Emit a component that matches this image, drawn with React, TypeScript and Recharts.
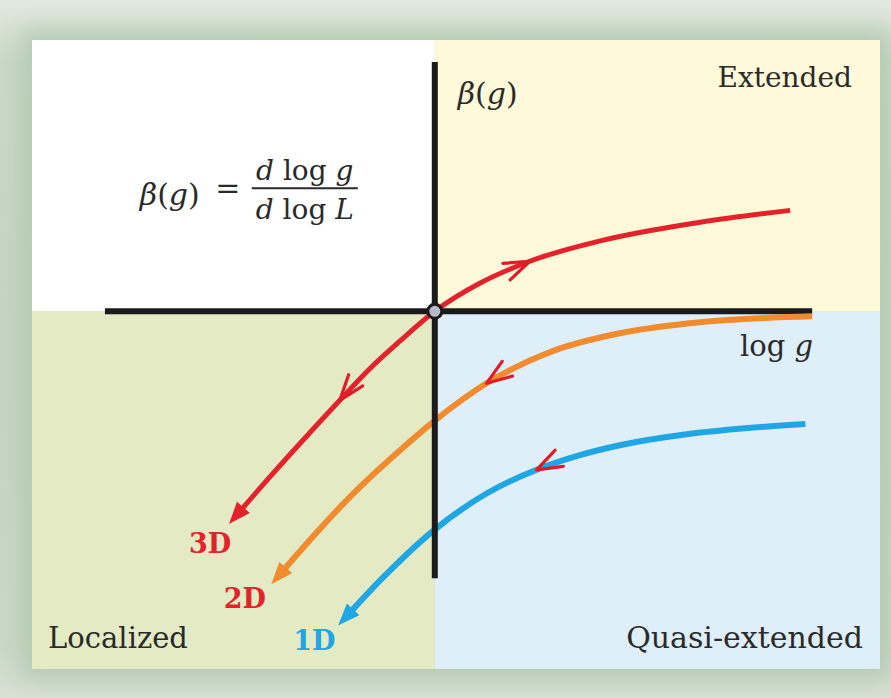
import React from 'react';
import {
  ComposedChart,
  Line,
  XAxis,
  YAxis,
  ReferenceArea,
  ReferenceLine,
  ReferenceDot,
} from 'recharts';

const WIDTH = 891;
const HEIGHT = 698;

// Scaling curves: log g (x) against β(g) (y), ordered by increasing log g
const logG3D = [-2.35, -1.95, -1.59, -1.12, -0.77, -0.41, 0, 0.53, 1.12, 1.95, 3.13, 4.19];
const beta3D = [-2.42, -1.96, -1.56, -1.05, -0.68, -0.35, 0, 0.33, 0.59, 0.83, 1.05, 1.19];

const logG2D = [-1.85, -1.59, -1.0, -0.41, 0, 0.61, 1.39, 2.18, 3.13, 4.45];
const beta2D = [-3.13, -2.83, -2.19, -1.64, -1.29, -0.85, -0.47, -0.26, -0.13, -0.06];

const logG1D = [-1.06, -0.61, -0.02, 0.61, 1.2, 1.7, 2.18, 2.97, 3.66, 4.37];
const beta1D = [-3.62, -3.14, -2.59, -2.15, -1.87, -1.7, -1.58, -1.45, -1.38, -1.33];

// Flow ticks on each curve: index of the curve point, +1 = flow toward larger log g
const flow3D = [
  { at: 8, dir: 1 },
  { at: 3, dir: -1 },
];
const flow2D = [{ at: 5, dir: -1 }];
const flow1D = [{ at: 4, dir: -1 }];

// Extents of the drawn axes and of the plotting window
const xDomain = [-4.75, 5.25];
const yDomain = [-4.22, 3.2];
const hAxis = [-3.89, 4.45];
const vAxis = [-3.15, 2.94];

const regionNames = ['Extended', 'Localized', 'Quasi-extended'];
const dimensionNames = ['3D', '2D', '1D'];

const toRows = (xs: number[], ys: number[]) => xs.map((x, i) => ({ x, y: ys[i] }));
const rows3D = toRows(logG3D, beta3D);
const rows2D = toRows(logG2D, beta2D);
const rows1D = toRows(logG1D, beta1D);

const RED = '#e3222b';
const ORANGE = '#f28a2e';
const BLUE = '#1fa6e4';
const TICK = '#df1c28';
const INK = '#2a2a2a';
const AXIS = '#1b1b1b';
const SERIF = "'DejaVu Serif', serif";
const deg = Math.PI / 180;

type Pt = { x: number; y: number };
const unit = (dx: number, dy: number): Pt => {
  const l = Math.hypot(dx, dy) || 1;
  return { x: dx / l, y: dy / l };
};
const rot = (v: Pt, a: number): Pt => ({
  x: v.x * Math.cos(a) - v.y * Math.sin(a),
  y: v.x * Math.sin(a) + v.y * Math.cos(a),
});

// Arrowhead at the low end of a curve and small hand-drawn flow ticks along it
function curveMarks(color: string, flow: { at: number; dir: number }[]) {
  return (props: any) => {
    const { cx, cy, index, points } = props;
    const key = `mark-${index}`;
    const pts = points as Pt[] | undefined;
    if (!pts || cx == null || cy == null) return <g key={key} />;
    if (index === 0 && pts.length > 1) {
      const u = unit(cx - pts[1].x, cy - pts[1].y);
      const n = { x: -u.y, y: u.x };
      const tip = { x: cx + u.x * 10, y: cy + u.y * 10 };
      const bx = cx - u.x * 12;
      const by = cy - u.y * 12;
      return (
        <polygon
          key={key}
          points={`${tip.x},${tip.y} ${bx + n.x * 8.5},${by + n.y * 8.5} ${bx - n.x * 8.5},${by - n.y * 8.5}`}
          fill={color}
        />
      );
    }
    const f = flow.find((m) => m.at === index);
    if (f && index > 0 && index < pts.length - 1) {
      const t = unit(pts[index + 1].x - pts[index - 1].x, pts[index + 1].y - pts[index - 1].y);
      const r = { x: -t.x * f.dir, y: -t.y * f.dir };
      const a = rot(r, -24 * deg);
      const b = rot(r, 15 * deg);
      const L = 27;
      return (
        <path
          key={key}
          d={`M${cx + a.x * L},${cy + a.y * L} L${cx},${cy} L${cx + b.x * L},${cy + b.y * L}`}
          fill="none"
          stroke={TICK}
          strokeWidth={3.2}
          strokeLinecap="round"
          strokeLinejoin="round"
        />
      );
    }
    return <g key={key} />;
  };
}

type TextOpts = { anchor?: 'start' | 'middle' | 'end'; size: number; fill?: string; weight?: number };
const textAt = (content: React.ReactNode, o: TextOpts) => (p: any) => (
  <text
    x={p.cx}
    y={p.cy}
    textAnchor={o.anchor ?? 'start'}
    fontFamily={SERIF}
    fontSize={o.size}
    fill={o.fill ?? INK}
    fontWeight={o.weight ?? 400}
  >
    {content}
  </text>
);

const it = (s: string) => <tspan fontStyle="italic">{s}</tspan>;

// β(g) = d log g / d log L, laid out around the fraction bar
const formula = (p: any) => {
  const { cx, cy } = p;
  return (
    <g fontFamily={SERIF} fill={INK}>
      <text x={cx - 112} y={cy + 17} fontSize={30}>
        {it('β')}({it('g')})
      </text>
      <text x={cx - 24} y={cy + 10} fontSize={30} textAnchor="middle">
        =
      </text>
      <text x={cx + 53} y={cy - 8} fontSize={28} textAnchor="middle">
        {it('d')} log {it('g')}
      </text>
      <line x1={cx} y1={cy} x2={cx + 106} y2={cy} stroke={INK} strokeWidth={2} />
      <text x={cx + 53} y={cy + 31} fontSize={28} textAnchor="middle">
        {it('d')} log {it('L')}
      </text>
    </g>
  );
};

export default function App() {
  return (
    <div
      style={{
        position: 'absolute',
        left: 0,
        top: 0,
        width: WIDTH,
        height: HEIGHT,
        overflow: 'hidden',
        background: 'linear-gradient(180deg, #e2e9df 0%, #c9d9c6 9%, #c3d5c0 50%, #c9d8c5 92%, #d7e1d4 100%)',
      }}
    >
      <div
        style={{
          position: 'absolute',
          left: 32,
          top: 40,
          width: 848,
          height: 629,
          boxShadow: '0 0 22px 10px #b5cbb2',
        }}
      />
      <div style={{ position: 'absolute', left: 0, top: 0 }}>
        <ComposedChart width={WIDTH} height={HEIGHT} margin={{ top: 40, right: 11, bottom: 29, left: 32 }}>
          <XAxis type="number" dataKey="x" domain={xDomain} hide />
          <YAxis type="number" dataKey="y" domain={yDomain} hide />

          {/* Four regimes */}
          <ReferenceArea x1={xDomain[0]} x2={0} y1={0} y2={yDomain[1]} fill="#ffffff" fillOpacity={1} stroke="none" zIndex={-300} />
          <ReferenceArea x1={0} x2={xDomain[1]} y1={0} y2={yDomain[1]} fill="#fef9d8" fillOpacity={1} stroke="none" zIndex={-300} />
          <ReferenceArea x1={xDomain[0]} x2={0} y1={yDomain[0]} y2={0} fill="#e3eac4" fillOpacity={1} stroke="none" zIndex={-300} />
          <ReferenceArea x1={0} x2={xDomain[1]} y1={yDomain[0]} y2={0} fill="#dfeffa" fillOpacity={1} stroke="none" zIndex={-300} />

          <ReferenceLine
            segment={[{ x: hAxis[0], y: 0 }, { x: hAxis[1], y: 0 }]}
            stroke={AXIS}
            strokeWidth={6}
            zIndex={350}
          />

          <Line data={rows1D} dataKey="y" type="monotone" stroke={BLUE} strokeWidth={6} dot={curveMarks(BLUE, flow1D)} activeDot={false} isAnimationActive={false} />
          <Line data={rows2D} dataKey="y" type="monotone" stroke={ORANGE} strokeWidth={6} dot={curveMarks(ORANGE, flow2D)} activeDot={false} isAnimationActive={false} />
          <Line data={rows3D} dataKey="y" type="monotone" stroke={RED} strokeWidth={5} dot={curveMarks(RED, flow3D)} activeDot={false} isAnimationActive={false} />

          <ReferenceLine
            segment={[{ x: 0, y: vAxis[0] }, { x: 0, y: vAxis[1] }]}
            stroke={AXIS}
            strokeWidth={6}
            zIndex={450}
          />
          <ReferenceDot x={0} y={0} r={7} fill="#b9bac8" stroke={AXIS} strokeWidth={3} zIndex={700} />

          {/* Text */}
          <ReferenceDot x={0.27} y={2.44} r={0} zIndex={2000} shape={textAt(<>{it('β')}({it('g')})</>, { size: 30 })} />
          <ReferenceDot x={4.46} y={-0.53} r={0} zIndex={2000} shape={textAt(<>log {it('g')}</>, { size: 29, anchor: 'end' })} />
          <ReferenceDot x={-2.158} y={1.45} r={0} zIndex={2000} shape={formula} />
          <ReferenceDot x={4.92} y={2.64} r={0} zIndex={2000} shape={textAt(regionNames[0], { size: 28, anchor: 'end' })} />
          <ReferenceDot x={-4.56} y={-3.97} r={0} zIndex={2000} shape={textAt(regionNames[1], { size: 29 })} />
          <ReferenceDot x={5.05} y={-3.97} r={0} zIndex={2000} shape={textAt(regionNames[2], { size: 30, anchor: 'end' })} />
          <ReferenceDot x={-2.65} y={-2.85} r={0} zIndex={2000} shape={textAt(dimensionNames[0], { size: 27, anchor: 'middle', fill: RED, weight: 700 })} />
          <ReferenceDot x={-2.24} y={-3.5} r={0} zIndex={2000} shape={textAt(dimensionNames[1], { size: 27, anchor: 'middle', fill: RED, weight: 700 })} />
          <ReferenceDot x={-1.42} y={-4.0} r={0} zIndex={2000} shape={textAt(dimensionNames[2], { size: 27, anchor: 'middle', fill: BLUE, weight: 700 })} />
        </ComposedChart>
      </div>
    </div>
  );
}
